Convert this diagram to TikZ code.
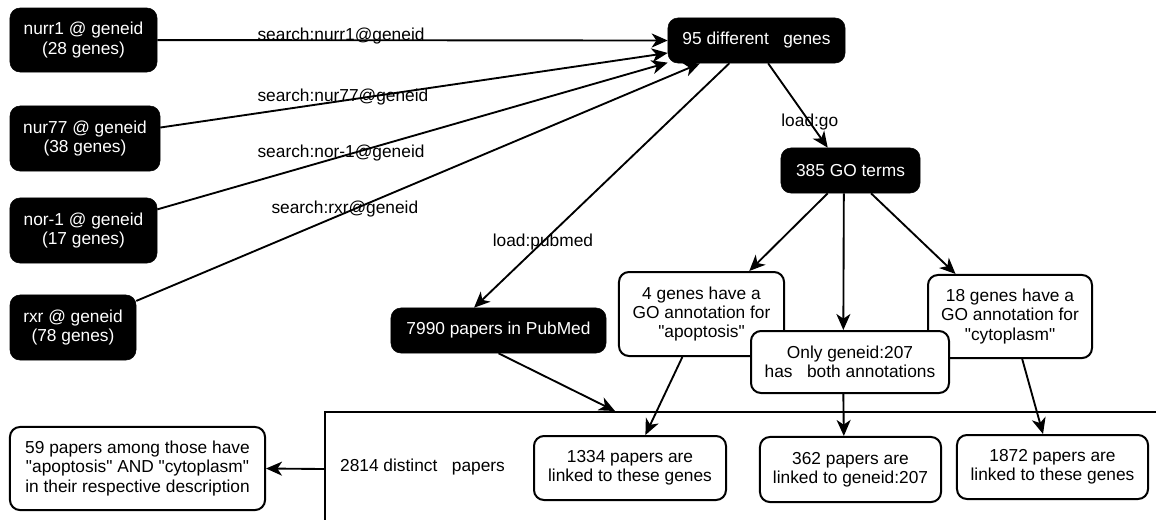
\documentclass[tikz,border=0pt]{standalone}
\usepackage{fontspec}
\setmainfont{Liberation Sans}
\usetikzlibrary{arrows.meta}
\tikzset{
  darkbox/.style={fill=black, draw=black, text=white, rounded corners=7.5pt, align=center, inner sep=0pt, font=\fontsize{13}{14.6}\selectfont},
  lightbox/.style={fill=white, draw=black, line width=1.5pt, rounded corners=7.5pt, align=center, inner sep=0pt, font=\fontsize{13}{14.6}\selectfont},
  flow/.style={-{Stealth[length=12pt,width=10.5pt,inset=3.5pt]}, line width=1.4pt},
  edgelabel/.style={font=\fontsize{13}{14.6}\selectfont, inner sep=0pt},
}
\newcommand{\qt}{\textquotedbl}

\begin{document}
\begin{tikzpicture}[x=0.75pt,y=-0.75pt]
  \useasboundingbox (0,0) rectangle (1156,519);
  % queries
  \node[darkbox, minimum width=110.3pt, minimum height=48pt] (nurr1) at (83.5,40) {nurr1 @ geneid\\(28 genes)};
  \node[darkbox, minimum width=112.5pt, minimum height=48.8pt] (nur77) at (85,138.5) {nur77 @ geneid\\(38 genes)};
  \node[darkbox, minimum width=110.3pt, minimum height=48.8pt] (nor1) at (83.5,230.5) {nor-1 @ geneid\\(17 genes)};
  \node[darkbox, minimum width=94.5pt, minimum height=48.8pt] (rxr) at (73,327.5) {rxr @ geneid\\(78 genes)};
  \node[darkbox, minimum width=132.8pt, minimum height=33.8pt] (genes95) at (756.5,40.5) {95 different\ \ \ genes};
  \node[darkbox, minimum width=104.3pt, minimum height=33.8pt] (goterms) at (850.5,170.5) {385 GO terms};
  \node[darkbox, minimum width=161.3pt, minimum height=33.8pt] (pubmed) at (498.5,330.5) {7990 papers in PubMed};
  % annotations
  \node[lightbox, minimum width=123.8pt, minimum height=63pt] (apop) at (701.5,314) {4 genes have a\\GO annotation for\\\qt apoptosis\qt};
  \node[lightbox, minimum width=123pt, minimum height=62.3pt] (cyto) at (1010,316.5) {18 genes have a\\GO annotation for\\\qt cytoplasm\qt};
  \node[lightbox, minimum width=148.5pt, minimum height=46.5pt] (only) at (850,362) {Only geneid:207\\has\ \ \ both annotations};
  % papers
  \node[draw, line width=1.5pt, anchor=north west, inner sep=0pt, minimum width=645pt, minimum height=85.5pt] (pool) at (324,411) {};
  \coordinate (pooltop) at (615,411);
  \node[edgelabel] (distinct) at (422.5,467) {2814 distinct\ \ \ papers};
  \node[lightbox, minimum width=144pt, minimum height=48pt] (p1334) at (630,468) {1334 papers are\\linked to these genes};
  \node[lightbox, minimum width=135.8pt, minimum height=48.8pt] (p362) at (850.5,469.5) {362 papers are\\linked to geneid:207};
  \node[lightbox, minimum width=143.3pt, minimum height=48pt] (p1872) at (1052.5,467) {1872 papers are\\linked to these genes};
  \node[lightbox, minimum width=191.3pt, minimum height=62.3pt] (among) at (137.5,468.5) {59 papers among those have\\\qt apoptosis\qt{} AND \qt cytoplasm\qt\\in their respective description};

  \draw[flow] (nurr1) -- node[edgelabel, pos=0.36, yshift=3pt] {search:nurr1@geneid} (genes95.west);
  \draw[flow] (nur77) -- node[edgelabel, pos=0.36, yshift=3pt] {search:nur77@geneid} (genes95.188);
  \draw[flow] (nor1) -- node[edgelabel, pos=0.36, yshift=3pt] {search:nor-1@geneid} (genes95.194);
  \draw[flow] (rxr) -- node[edgelabel, pos=0.37, yshift=3pt] {search:rxr@geneid} (genes95.202);
  \draw[flow] (genes95.220) -- node[edgelabel, pos=0.73] {load:pubmed} (pubmed.137);
  \draw[flow] (genes95.297) -- node[edgelabel, pos=0.7] {load:go} (goterms.135);
  \draw[flow] (goterms.225) -- (apop.42);
  \draw[flow] ([xshift=-5pt]goterms.south) -- ([xshift=-5pt]only.north);
  \draw[flow] (goterms.312) -- (cyto.142);
  \draw[flow] (pubmed.south) -- (pooltop);
  \draw[flow] (apop.246) -- (p1334.65);
  \draw[flow] ([xshift=-5pt]only.south) -- ([xshift=-5pt]p362.north);
  \draw[flow] (cyto.286) -- (p1872.106);
  \draw[flow] (pool.west) -- (among.east);
\end{tikzpicture}
\end{document}
